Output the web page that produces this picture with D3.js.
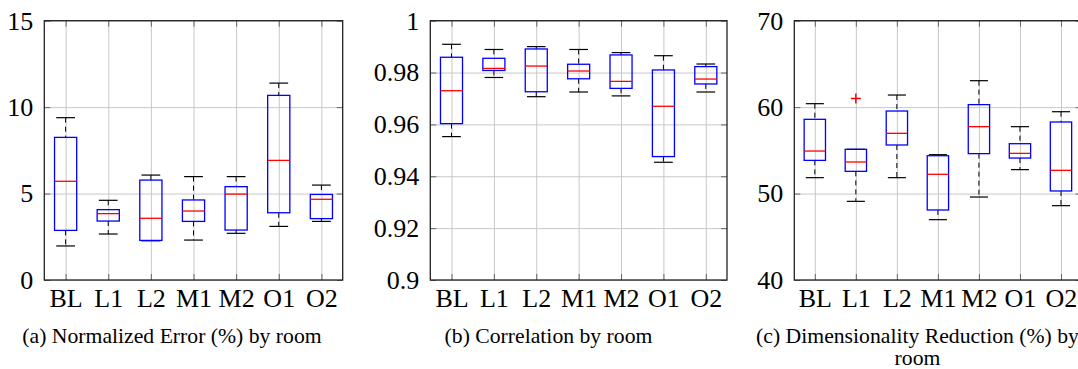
<!DOCTYPE html>
<html>
<head>
<meta charset="utf-8">
<script src="https://cdn.jsdelivr.net/npm/d3@7"></script>
<style>
body { margin: 0; background: #fff; }
svg text { font-family: 'Liberation Serif', Tinos, 'DejaVu Serif', serif; fill: #000; }
</style>
</head>
<body>
<div id="chart"></div>
<script>
var rooms = ['BL', 'L1', 'L2', 'M1', 'M2', 'O1', 'O2'];

// (a) normalized error
var errLo = [1.97, 2.66, 2.27, 2.31, 2.70, 3.10, 3.39];
var errQ1 = [2.87, 3.41, 2.29, 3.39, 2.89, 3.89, 3.55];
var errMed = [5.71, 3.84, 3.57, 3.99, 4.97, 6.92, 4.67];
var errQ3 = [8.25, 4.07, 5.78, 4.63, 5.40, 10.68, 4.95];
var errHi = [9.39, 4.61, 6.07, 5.98, 5.98, 11.39, 5.49];
var errTicks = [0, 5, 10, 15];

// (b) correlation
var corLo = [0.9553, 0.9781, 0.9707, 0.9725, 0.9710, 0.9454, 0.9725];
var corQ1 = [0.9603, 0.9808, 0.9726, 0.9776, 0.9739, 0.9476, 0.9756];
var corMed = [0.9730, 0.9816, 0.9825, 0.9806, 0.9766, 0.9670, 0.9775];
var corQ3 = [0.9859, 0.9855, 0.9891, 0.9832, 0.9868, 0.9810, 0.9823];
var corHi = [0.9909, 0.9889, 0.9900, 0.9889, 0.9877, 0.9865, 0.9833];
var corTicks = [0.9, 0.92, 0.94, 0.96, 0.98, 1];

// (c) dimensionality reduction
var dimLo = [51.84, 49.10, 51.84, 46.98, 49.60, 52.77, 48.60];
var dimQ1 = [53.84, 52.57, 55.62, 48.10, 54.62, 54.11, 50.30];
var dimMed = [54.92, 53.65, 56.97, 52.23, 57.74, 54.65, 52.69];
var dimQ3 = [58.59, 55.12, 59.55, 54.38, 60.29, 55.77, 58.28];
var dimHi = [60.40, 55.12, 61.40, 54.50, 63.06, 57.74, 59.47];
var dimOutRoom = ['L1'];
var dimOutVal = [61.0];
var dimTicks = [40, 50, 60, 70];

var serif = "'Liberation Serif', Tinos, 'DejaVu Serif', serif";

var svg = d3.select('#chart').append('svg')
	.attr('width', 1078)
	.attr('height', 369);

var top_ = 20.7, bottom = 280;

function drawPanel(left, right, lo, q1, med, q3, hi, ticks, outRoom, outVal) {
	var x = d3.scalePoint()
		.domain(rooms)
		.range([left, right])
		.padding(0.5);

	var y = d3.scaleLinear()
		.domain(d3.extent(ticks))
		.range([bottom, top_]);

	var g = svg.append('g');

	// grid
	g.append('g')
		.attr('transform', `translate(0,${bottom})`)
		.call(d3.axisBottom(x).tickSize(-(bottom - top_)).tickFormat(''))
		.call(a => a.select('.domain').remove())
		.selectAll('line').attr('stroke', '#c8c8c8').attr('stroke-width', 1);
	g.append('g')
		.attr('transform', `translate(${left},0)`)
		.call(d3.axisLeft(y).tickValues(ticks).tickSize(-(right - left)).tickFormat(''))
		.call(a => a.select('.domain').remove())
		.selectAll('line').attr('stroke', '#c8c8c8').attr('stroke-width', 1);

	// inner tick marks + labels
	var xAxis = g.append('g')
		.attr('transform', `translate(0,${bottom})`)
		.call(d3.axisBottom(x).tickSizeInner(-6).tickSizeOuter(0).tickPadding(9));
	var xTop = g.append('g')
		.attr('transform', `translate(0,${top_})`)
		.call(d3.axisTop(x).tickSizeInner(-6).tickSizeOuter(0).tickFormat(''));
	var yAxis = g.append('g')
		.attr('transform', `translate(${left},0)`)
		.call(d3.axisLeft(y).tickValues(ticks).tickSizeInner(-6).tickSizeOuter(0).tickPadding(11).tickFormat(d3.format('~g')));
	var yRight = g.append('g')
		.attr('transform', `translate(${right},0)`)
		.call(d3.axisRight(y).tickValues(ticks).tickSizeInner(-6).tickSizeOuter(0).tickFormat(''));

	[xAxis, xTop, yAxis, yRight].forEach(a => {
		a.attr('font-family', null);
		a.select('.domain').remove();
		a.selectAll('line').attr('stroke', '#666').attr('stroke-width', 1);
		a.selectAll('text').style('font-family', serif).style('font-size', '26px').attr('fill', '#000');
	});

	g.append('rect')
		.attr('x', left)
		.attr('y', top_)
		.attr('width', right - left)
		.attr('height', bottom - top_)
		.attr('fill', 'none')
		.attr('stroke', '#222')
		.attr('stroke-width', 1.3);

	var bw = x.step() * 0.52;
	var cw = x.step() * 0.22;

	var boxes = g.selectAll('.box')
		.data(rooms)
		.join('g')
		.attr('class', 'box');

	boxes.append('line')
		.attr('x1', d => x(d)).attr('x2', d => x(d))
		.attr('y1', (d, i) => y(hi[i])).attr('y2', (d, i) => y(q3[i]))
		.attr('stroke', '#000').attr('stroke-dasharray', '5,4');
	boxes.append('line')
		.attr('x1', d => x(d)).attr('x2', d => x(d))
		.attr('y1', (d, i) => y(q1[i])).attr('y2', (d, i) => y(lo[i]))
		.attr('stroke', '#000').attr('stroke-dasharray', '5,4');
	boxes.append('line')
		.attr('x1', d => x(d) - cw).attr('x2', d => x(d) + cw)
		.attr('y1', (d, i) => y(hi[i])).attr('y2', (d, i) => y(hi[i]))
		.attr('stroke', '#000').attr('stroke-width', 1.2);
	boxes.append('line')
		.attr('x1', d => x(d) - cw).attr('x2', d => x(d) + cw)
		.attr('y1', (d, i) => y(lo[i])).attr('y2', (d, i) => y(lo[i]))
		.attr('stroke', '#000').attr('stroke-width', 1.2);
	boxes.append('rect')
		.attr('x', d => x(d) - bw / 2)
		.attr('y', (d, i) => y(q3[i]))
		.attr('width', bw)
		.attr('height', (d, i) => y(q1[i]) - y(q3[i]))
		.attr('fill', 'none')
		.attr('stroke', '#0000ff')
		.attr('stroke-width', 1.3);
	boxes.append('line')
		.attr('x1', d => x(d) - bw / 2).attr('x2', d => x(d) + bw / 2)
		.attr('y1', (d, i) => y(med[i])).attr('y2', (d, i) => y(med[i]))
		.attr('stroke', '#ff0000').attr('stroke-width', 1.3);

	if (outRoom) {
		g.selectAll('.out')
			.data(outRoom)
			.join('path')
			.attr('class', 'out')
			.attr('d', (d, i) => `M${x(d) - 5},${y(outVal[i])}h10M${x(d)},${y(outVal[i]) - 5}v10`)
			.attr('stroke', '#ff0000')
			.attr('stroke-width', 1.5)
			.attr('fill', 'none');
	}
}

drawPanel(44.3, 342.7, errLo, errQ1, errMed, errQ3, errHi, errTicks);
drawPanel(430.3, 727, corLo, corQ1, corMed, corQ3, corHi, corTicks);
drawPanel(794.3, 1081.5, dimLo, dimQ1, dimMed, dimQ3, dimHi, dimTicks, dimOutRoom, dimOutVal);

var captions = [
	{x: 172, lines: ['(a) Normalized Error (%) by room']},
	{x: 548.5, lines: ['(b) Correlation by room']},
	{x: 917.5, lines: ['(c) Dimensionality Reduction (%) by', 'room']}
];

captions.forEach(c => {
	c.lines.forEach((t, i) => {
		svg.append('text')
			.attr('x', c.x)
			.attr('y', 343 + i * 22)
			.attr('text-anchor', 'middle')
			.style('font-family', serif)
			.style('font-size', '21.7px')
			.text(t);
	});
});
</script>
</body>
</html>
